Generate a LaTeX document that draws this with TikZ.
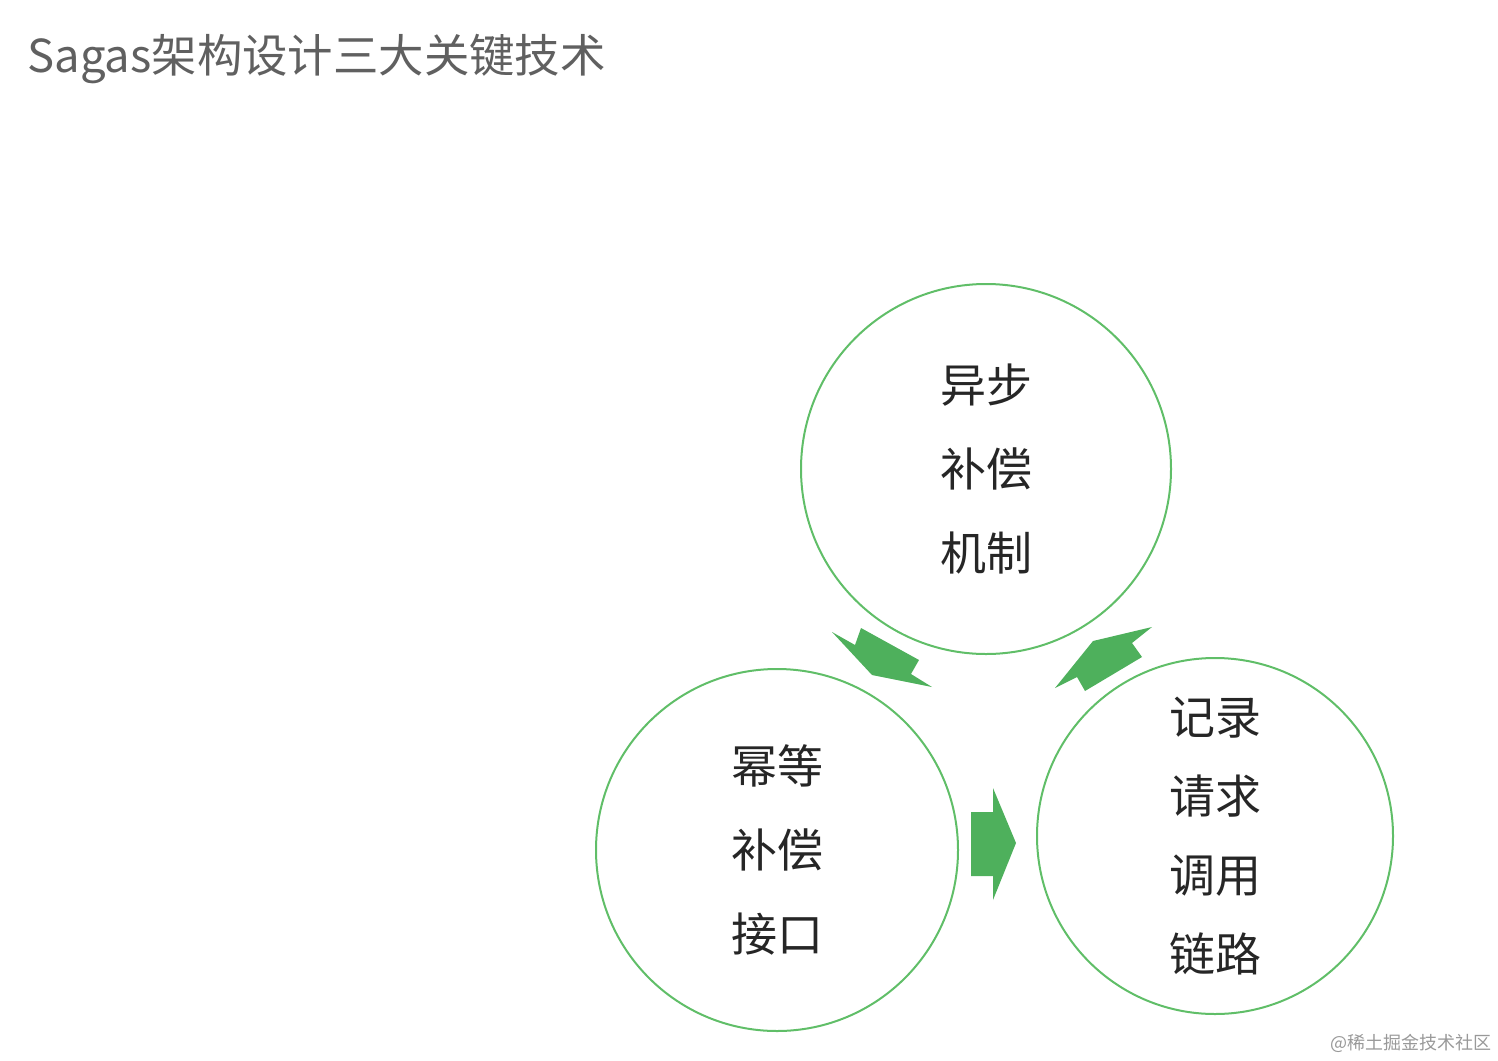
\documentclass[tikz,border=0pt]{standalone}
\usepackage{fontspec}
\newfontfamily\cjk{Noto Sans CJK SC}
\usetikzlibrary{calc}
\definecolor{ringgreen}{RGB}{96,190,104}
\definecolor{arrowgreen}{RGB}{78,176,92}
\definecolor{titlegray}{RGB}{96,96,96}
\tikzset{
  ring/.style={circle, draw=ringgreen, line width=1pt, inner sep=0pt},
  ringtext/.style={align=center, text=black!85, font=\cjk\fontsize{23}{42}\selectfont},
  blockarrow/.style={fill=arrowgreen, draw=none}
}

\begin{document}
\begin{tikzpicture}[x=0.5pt, y=-0.5pt]
  \useasboundingbox (0,0) rectangle (1498,1060);
  % title
  \node[anchor=base west, inner sep=0pt, text=titlegray, font=\cjk\fontsize{22.7}{28}\selectfont] (title) at (27,72) {Sagas架构设计三大关键技术};
  % the three circles
  \node[ring, minimum size=185pt] (async) at (986,469) {};
  \node[ring, minimum size=181pt] (idem) at (777,850) {};
  \node[ring, minimum size=178pt] (trace) at (1215,836) {};
  \node[ringtext] (asynctext) at (async) {异步\\补偿\\机制};
  \node[ringtext] (idemtext) at (idem) {幂等\\补偿\\接口};
  \node[ringtext, font=\cjk\fontsize{23}{39.5}\selectfont] (tracetext) at (trace) {记录\\请求\\调用\\链路};
  % block arrows between the circles
  \fill[blockarrow] (832,632) -- (855,645) -- (861,628) -- (919,660) -- (911,674)
    -- (932,687) -- (872,675) -- cycle;
  \fill[blockarrow] (971,812) -- (993,812) -- (993,788) -- (1016,843) -- (993,900)
    -- (993,876) -- (971,876) -- cycle;
  \fill[blockarrow] (1152,627) -- (1132,643) -- (1142,657) -- (1085,691) -- (1077,677)
    -- (1055,688) -- (1093,641) -- cycle;
  % watermark
  \node[anchor=east, inner sep=0pt, text=black!40, font=\cjk\fontsize{9}{11}\selectfont] (mark) at (1492,1043) {@稀土掘金技术社区};
\end{tikzpicture}
\end{document}
